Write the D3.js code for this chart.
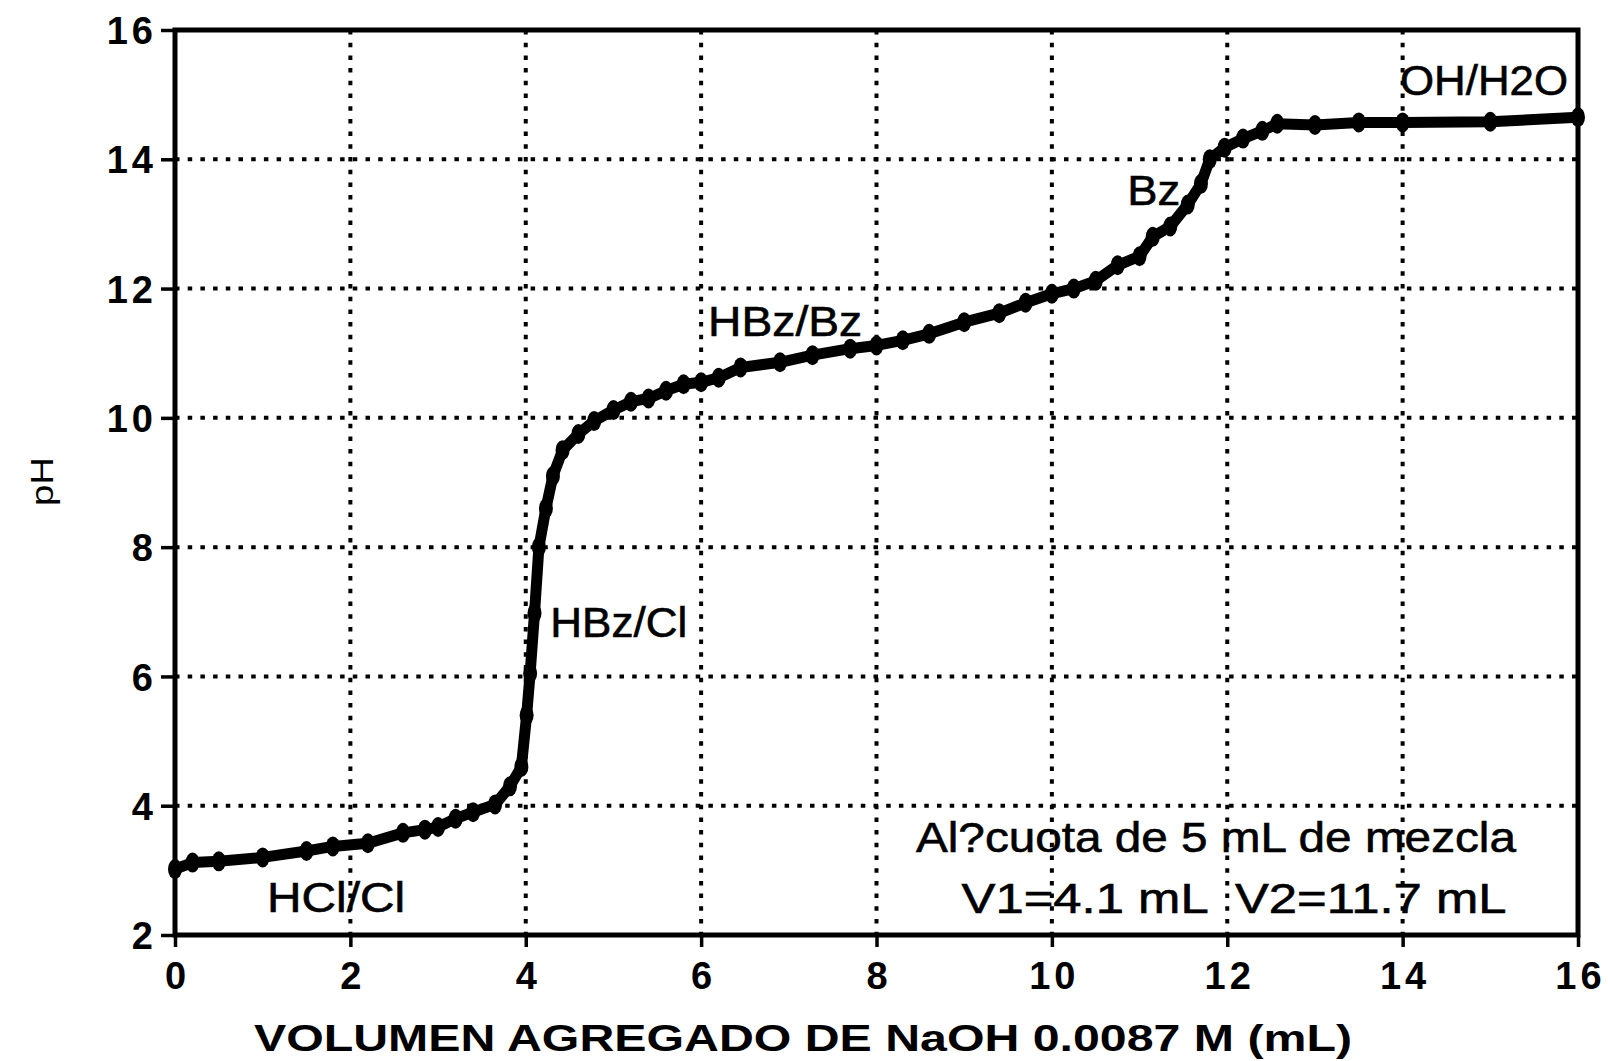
<!DOCTYPE html>
<html>
<head>
<meta charset="utf-8">
<script src="https://cdnjs.cloudflare.com/ajax/libs/d3/7.8.5/d3.min.js"></script>
<style>
  body { margin: 0; background: #fff; }
  svg { display: block; font-family: "Liberation Sans", Arial, sans-serif; }
</style>
</head>
<body>
<div id="chart"></div>
<script>
// volumen de NaOH agregado (mL) y pH leido
var volumen = [0, 0.2, 0.5, 1.0, 1.5, 1.8, 2.2, 2.6, 2.85, 3.0, 3.2, 3.4, 3.65, 3.82, 3.95,
  4.01, 4.05, 4.1, 4.15, 4.23, 4.31, 4.42, 4.6, 4.78, 5.0, 5.2, 5.4, 5.6, 5.8, 6.0, 6.2,
  6.45, 6.9, 7.27, 7.7, 8.0, 8.3, 8.6, 9.0, 9.4, 9.7, 10.0, 10.25, 10.5, 10.75, 11.0,
  11.15, 11.35, 11.55, 11.7, 11.8, 11.97, 12.18, 12.4, 12.57, 13.0, 13.5, 14.0, 15.0, 16.0];
var ph = [3.02, 3.12, 3.14, 3.2, 3.3, 3.37, 3.42, 3.58, 3.63, 3.67, 3.8, 3.9, 4.02, 4.3, 4.6,
  5.4, 6.05, 6.98, 8.0, 8.6, 9.1, 9.5, 9.75, 9.95, 10.12, 10.25, 10.3, 10.42, 10.52, 10.55, 10.62,
  10.78, 10.86, 10.97, 11.07, 11.12, 11.2, 11.3, 11.48, 11.62, 11.78, 11.92, 12.0, 12.12, 12.36, 12.5,
  12.8, 12.96, 13.3, 13.62, 14.0, 14.18, 14.32, 14.44, 14.55, 14.53, 14.57, 14.57, 14.58, 14.65];

var xTicks = [0, 2, 4, 6, 8, 10, 12, 14, 16];
var yTicks = [2, 4, 6, 8, 10, 12, 14, 16];

var especies = ["HCl/Cl", "HBz/Cl", "HBz/Bz", "Bz", "OH/H2O"];
var notas = ["Al?cuota de 5 mL de mezcla", "V1=4.1 mL  V2=11.7 mL"];
var tituloX = "VOLUMEN AGREGADO DE NaOH 0.0087 M (mL)";
var tituloY = "pH";

var W = 1608, H = 1061;
var svg = d3.select("#chart").append("svg").attr("width", W).attr("height", H);

var x = d3.scaleLinear().domain([0, 16]).range([175, 1578]);
var y = d3.scaleLinear().domain([2, 16]).range([935, 30]);

// rejilla punteada
svg.append("g").selectAll("line").data(xTicks.slice(1, -1)).enter().append("line")
  .attr("x1", function(d) { return x(d); }).attr("x2", function(d) { return x(d); })
  .attr("y1", y(16)).attr("y2", y(2))
  .attr("stroke", "#000").attr("stroke-width", 4).attr("stroke-dasharray", "4.5,8.2");
svg.append("g").selectAll("line").data(yTicks.slice(1, -1)).enter().append("line")
  .attr("x1", x(0)).attr("x2", x(16))
  .attr("y1", function(d) { return y(d); }).attr("y2", function(d) { return y(d); })
  .attr("stroke", "#000").attr("stroke-width", 4).attr("stroke-dasharray", "4.5,8.2");

// ejes
var xAxis = d3.axisBottom(x).tickValues(xTicks).tickSize(12).tickFormat(d3.format("d"));
var yAxis = d3.axisLeft(y).tickValues(yTicks).tickSize(14).tickFormat(d3.format("d"));

var gx = svg.append("g").attr("transform", "translate(0," + y(2) + ")").call(xAxis);
var gy = svg.append("g").attr("transform", "translate(" + x(0) + ",0)").call(yAxis);
[gx, gy].forEach(function(g) {
  g.select(".domain").remove();
  g.selectAll(".tick line").attr("stroke", "#000").attr("stroke-width", 3.5);
  g.selectAll(".tick text").attr("fill", "#000")
    .style("font-size", "38px").style("font-weight", "bold")
    .style("letter-spacing", "4px");
});
gx.selectAll(".tick text").attr("y", 27).attr("dy", "0.71em").attr("dx", 2);
gy.selectAll(".tick text").attr("x", -18).attr("dy", "0.36em");

// marco
svg.append("rect")
  .attr("x", x(0)).attr("y", y(16))
  .attr("width", x(16) - x(0)).attr("height", y(2) - y(16))
  .attr("fill", "none").attr("stroke", "#000").attr("stroke-width", 5);

// curva de titulacion
var pts = volumen.map(function(v, i) { return [v, ph[i]]; });
var line = d3.line().x(function(d) { return x(d[0]); }).y(function(d) { return y(d[1]); });
svg.append("path").datum(pts).attr("d", line)
  .attr("fill", "none").attr("stroke", "#000").attr("stroke-width", 11)
  .attr("stroke-linejoin", "round").attr("stroke-linecap", "round");
svg.append("g").selectAll("ellipse").data(pts).enter().append("ellipse")
  .attr("cx", function(d) { return x(d[0]); }).attr("cy", function(d) { return y(d[1]); })
  .attr("rx", 7).attr("ry", 10).attr("fill", "#000");

// etiquetas (ancla en unidades de datos, ancho en px)
var posEspecies = [
  { v: 1.05, p: 2.36, w: 138 },
  { v: 4.28, p: 6.61, w: 137 },
  { v: 6.08, p: 11.26, w: 154 },
  { v: 10.86, p: 13.3, w: 53 },
  { v: 13.97, p: 15.0, w: 168 }
];
svg.append("g").selectAll("text").data(especies).enter().append("text")
  .attr("x", function(d, i) { return x(posEspecies[i].v); })
  .attr("y", function(d, i) { return y(posEspecies[i].p); })
  .attr("textLength", function(d, i) { return posEspecies[i].w; })
  .attr("lengthAdjust", "spacingAndGlyphs")
  .style("font-size", "42px")
  .attr("stroke", "#000").attr("stroke-width", 0.6)
  .text(function(d) { return d; });

var posNotas = [
  { v: 8.45, p: 3.28, w: 600 },
  { v: 8.97, p: 2.34, w: 545 }
];
svg.append("g").selectAll("text").data(notas).enter().append("text")
  .attr("x", function(d, i) { return x(posNotas[i].v); })
  .attr("y", function(d, i) { return y(posNotas[i].p); })
  .attr("textLength", function(d, i) { return posNotas[i].w; })
  .attr("lengthAdjust", "spacingAndGlyphs")
  .attr("xml:space", "preserve")
  .style("white-space", "pre")
  .style("font-size", "42px")
  .attr("stroke", "#000").attr("stroke-width", 0.6)
  .text(function(d) { return d; });

// titulos de ejes
svg.append("text")
  .attr("x", 254).attr("y", 1051)
  .attr("textLength", 1098).attr("lengthAdjust", "spacingAndGlyphs")
  .style("font-size", "37px").style("font-weight", "bold")
  .text(tituloX);

svg.append("text")
  .attr("transform", "translate(53,506) rotate(-90)")
  .attr("textLength", 49).attr("lengthAdjust", "spacingAndGlyphs")
  .style("font-size", "32px")
  .text(tituloY);
</script>
</body>
</html>
